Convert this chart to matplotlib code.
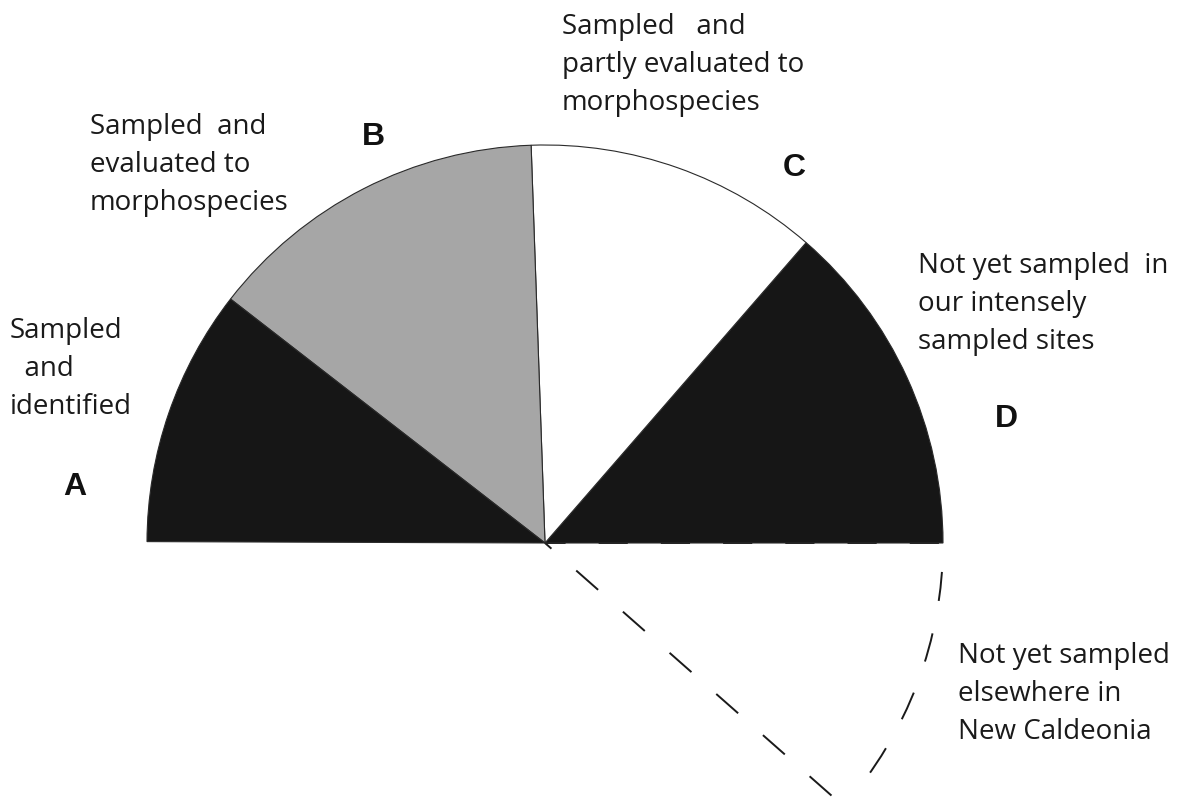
import numpy as np
import matplotlib
matplotlib.use("Agg")
import matplotlib.pyplot as plt

# Slice sizes in degrees, counter-clockwise from the start angle
slice_names = ["hidden-dashed", "D", "C", "B", "A", "blank"]
slice_degrees = [41.4, 49.0, 43.0, 50.2, 37.6, 138.8]
slice_colors = ["none", "#161616", "white", "#a6a6a6", "#161616", "none"]
start_angle = -41.4

letters = ["A", "B", "C", "D"]
letter_xy = [(75, 495), (373, 145), (794, 176), (1006, 427)]

captions = [
    ["Sampled", "  and", "identified"],
    ["Sampled  and", "evaluated to", "morphospecies"],
    ["Sampled   and", "partly evaluated to", "morphospecies"],
    ["Not yet sampled  in", "our intensely", "sampled sites"],
    ["Not yet sampled", "elsewhere in", "New Caldeonia"],
]
caption_xy = [(10, 338), (90, 134), (562, 34), (918, 273), (958, 663)]
LINE_GAP = 37.8

W, H = 1184, 797
CENTER = (545, H - 543)
RADIUS = 398

fig = plt.figure(figsize=(W / 100, H / 100), dpi=100)
ax = fig.add_axes([0, 0, 1, 1])

wedges, _ = ax.pie(slice_degrees, colors=["white"] * len(slice_degrees),
                   startangle=start_angle, counterclock=True,
                   center=CENTER, radius=RADIUS, frame=True,
                   wedgeprops=dict(edgecolor="#2a2a2a", linewidth=0.8))
for w, name, col in zip(wedges, slice_names, slice_colors):
    if name == "blank":
        w.set_visible(False)
    elif name == "hidden-dashed":
        # outline only, drawn under the solid slices
        w.set_facecolor("none")
        w.set_edgecolor("#1a1a1a")
        w.set_linewidth(1.4)
        w.set_linestyle((10, (15, 17)))
        w.set_zorder(0.5)
    else:
        w.set_facecolor(col)

ax.set_xlim(0, W)
ax.set_ylim(0, H)
ax.axis("off")

for lab, (x, y) in zip(letters, letter_xy):
    ax.text(x, H - y, lab, ha="center", va="baseline", fontsize=23,
            fontweight="bold", family="Liberation Sans", color="#111")

for lines, (x, y) in zip(captions, caption_xy):
    for i, line in enumerate(lines):
        ax.text(x, H - (y + i * LINE_GAP), line, ha="left", va="baseline",
                fontsize=20, family="Open Sans", color="#1a1a1a")

fig.savefig("out.png", dpi=100)
